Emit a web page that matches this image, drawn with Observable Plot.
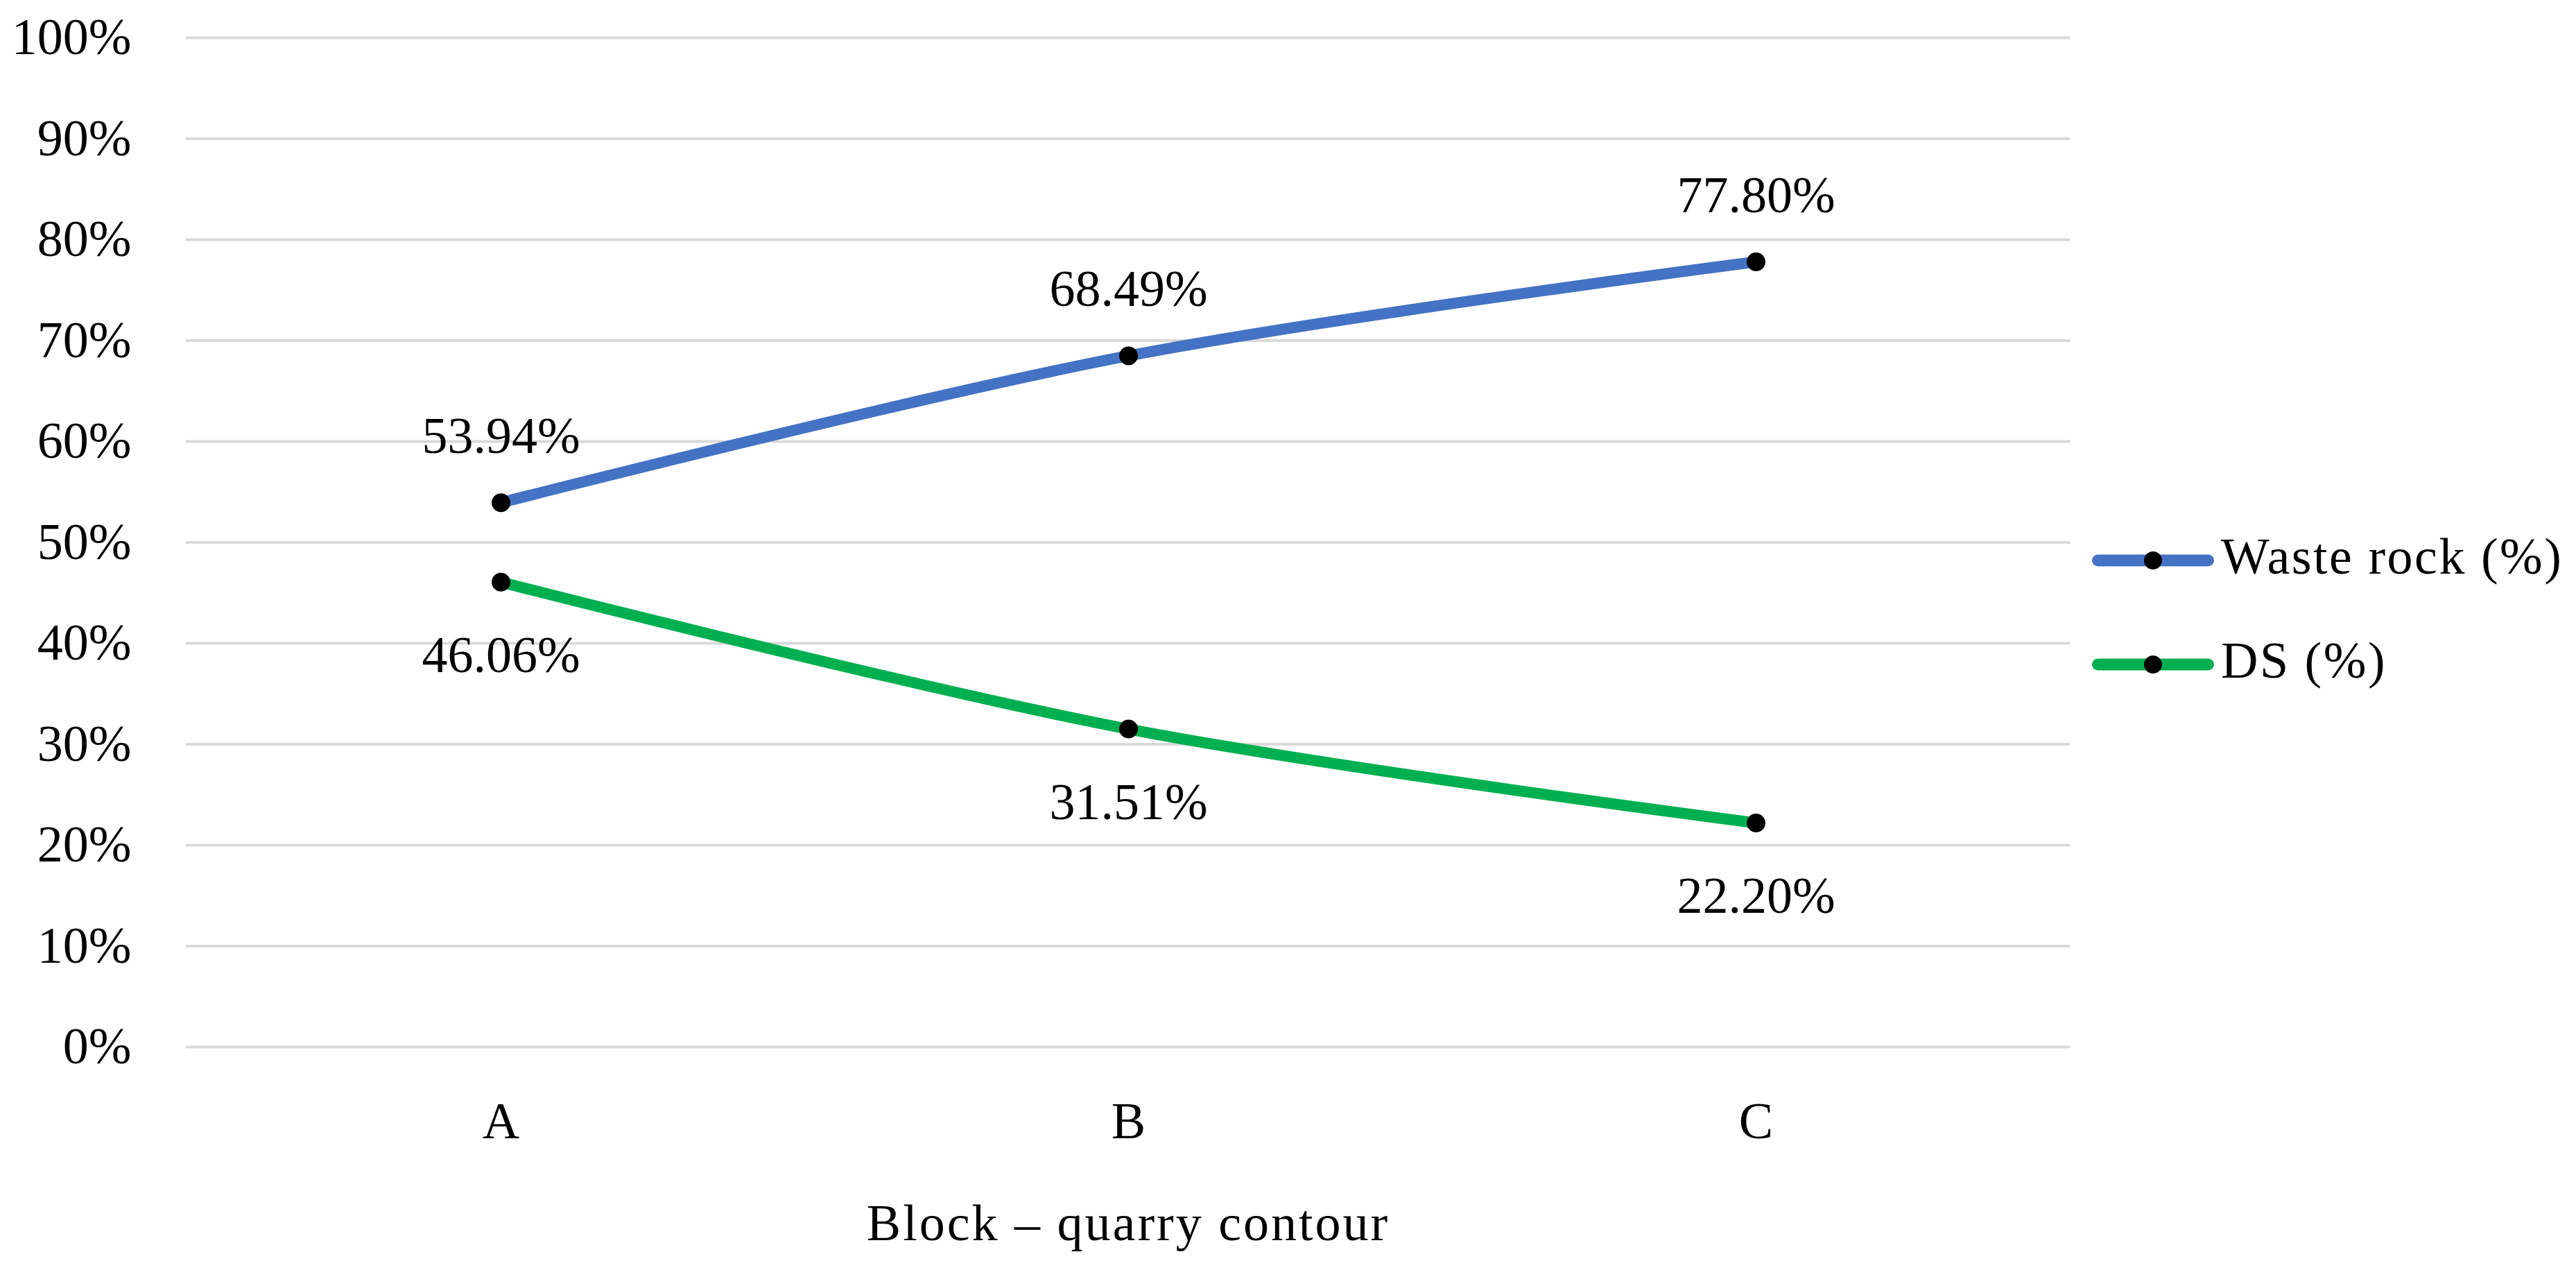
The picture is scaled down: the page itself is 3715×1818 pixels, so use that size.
<!DOCTYPE html>
<html>
<head>
<meta charset="utf-8">
<script src="https://cdn.jsdelivr.net/npm/d3@7"></script>
<script src="https://cdn.jsdelivr.net/npm/@observablehq/plot@0.6"></script>
<style>
  html, body { margin: 0; padding: 0; background: #fff; }
  #wrap { position: relative; width: 3715px; height: 1818px; font-family: "Liberation Serif", serif; }
  #chart svg { display: block; }
  #chart svg g[aria-label="x-axis label"] text { letter-spacing: 3px; }
  #legend { position: absolute; left: 3017px; top: 0; }
  .row { position: absolute; left: 0; display: flex; align-items: center; height: 100px; white-space: nowrap; font-size: 74px; color: #000; }
  .row span { position: relative; top: -6px; margin-left: 10px; letter-spacing: 2.5px; }
</style>
</head>
<body>
<div id="wrap"><div id="chart"></div><div id="legend"></div></div>
<script>
// ---- data ----
const categories = ["A", "B", "C"];
const seriesNames = ["Waste rock (%)", "DS (%)"];
const wasteRock = [53.94, 68.49, 77.80];
const ds = [46.06, 31.51, 22.20];
const yTicks = [0, 10, 20, 30, 40, 50, 60, 70, 80, 90, 100];
const seriesColors = ["#4472C4", "#00B050"];
const xTitle = "Block – quarry contour";

const rows = [];
categories.forEach((c, i) => rows.push({cat: c, value: wasteRock[i], series: seriesNames[0]}));
categories.forEach((c, i) => rows.push({cat: c, value: ds[i], series: seriesNames[1]}));

const FONT = "Liberation Serif";
const FS = 74;

const chart = Plot.plot({
  width: 3000,
  height: 1818,
  marginLeft: 268,
  marginRight: 15,
  marginTop: 54,
  marginBottom: 309,
  style: {fontFamily: FONT, fontSize: FS + "px", color: "#000", background: "#fff"},
  x: {type: "point", domain: categories, padding: 0.5},
  y: {domain: [0, 100]},
  color: {domain: seriesNames, range: seriesColors},
  marks: [
    Plot.gridY(yTicks, {stroke: "#d9d9d9", strokeOpacity: 1, strokeWidth: 4}),
    Plot.axisY(yTicks, {tickSize: 0, tickPadding: 79, tickFormat: d => d + "%", label: null, fontSize: FS, fill: "#000"}),
    Plot.axisX({tickSize: 0, tickPadding: 79, label: xTitle, labelAnchor: "center", labelOffset: 278, fontSize: FS, fill: "#000"}),
    Plot.line(rows, {x: "cat", y: "value", z: "series", stroke: "series", strokeWidth: 16, curve: "catmull-rom", strokeLinecap: "round"}),
    Plot.dot(rows, {x: "cat", y: "value", r: 13.5, fill: "#000", stroke: null}),
    Plot.text(rows.filter(d => d.series === seriesNames[0]), {x: "cat", y: "value", text: d => d.value.toFixed(2) + "%", lineAnchor: "bottom", dy: -72, fontSize: FS, fill: "#000"}),
    Plot.text(rows.filter(d => d.series === seriesNames[1]), {x: "cat", y: "value", text: d => d.value.toFixed(2) + "%", lineAnchor: "top", dy: 77, fontSize: FS, fill: "#000"})
  ]
});
document.getElementById("chart").appendChild(chart);

// ---- legend (right of plot) ----
const legend = d3.select("#legend");
const rowTops = [758, 908];
seriesNames.forEach((name, i) => {
  const row = legend.append("div").attr("class", "row").style("top", rowTops[i] + "px");
  const sw = row.append("svg").attr("width", 176).attr("height", 40);
  sw.append("line").attr("x1", 8.5).attr("x2", 167.5).attr("y1", 20).attr("y2", 20)
    .attr("stroke", seriesColors[i]).attr("stroke-width", 17).attr("stroke-linecap", "round");
  sw.append("circle").attr("cx", 88).attr("cy", 20).attr("r", 13).attr("fill", "#000");
  row.append("span").text(name);
});
</script>
</body>
</html>
